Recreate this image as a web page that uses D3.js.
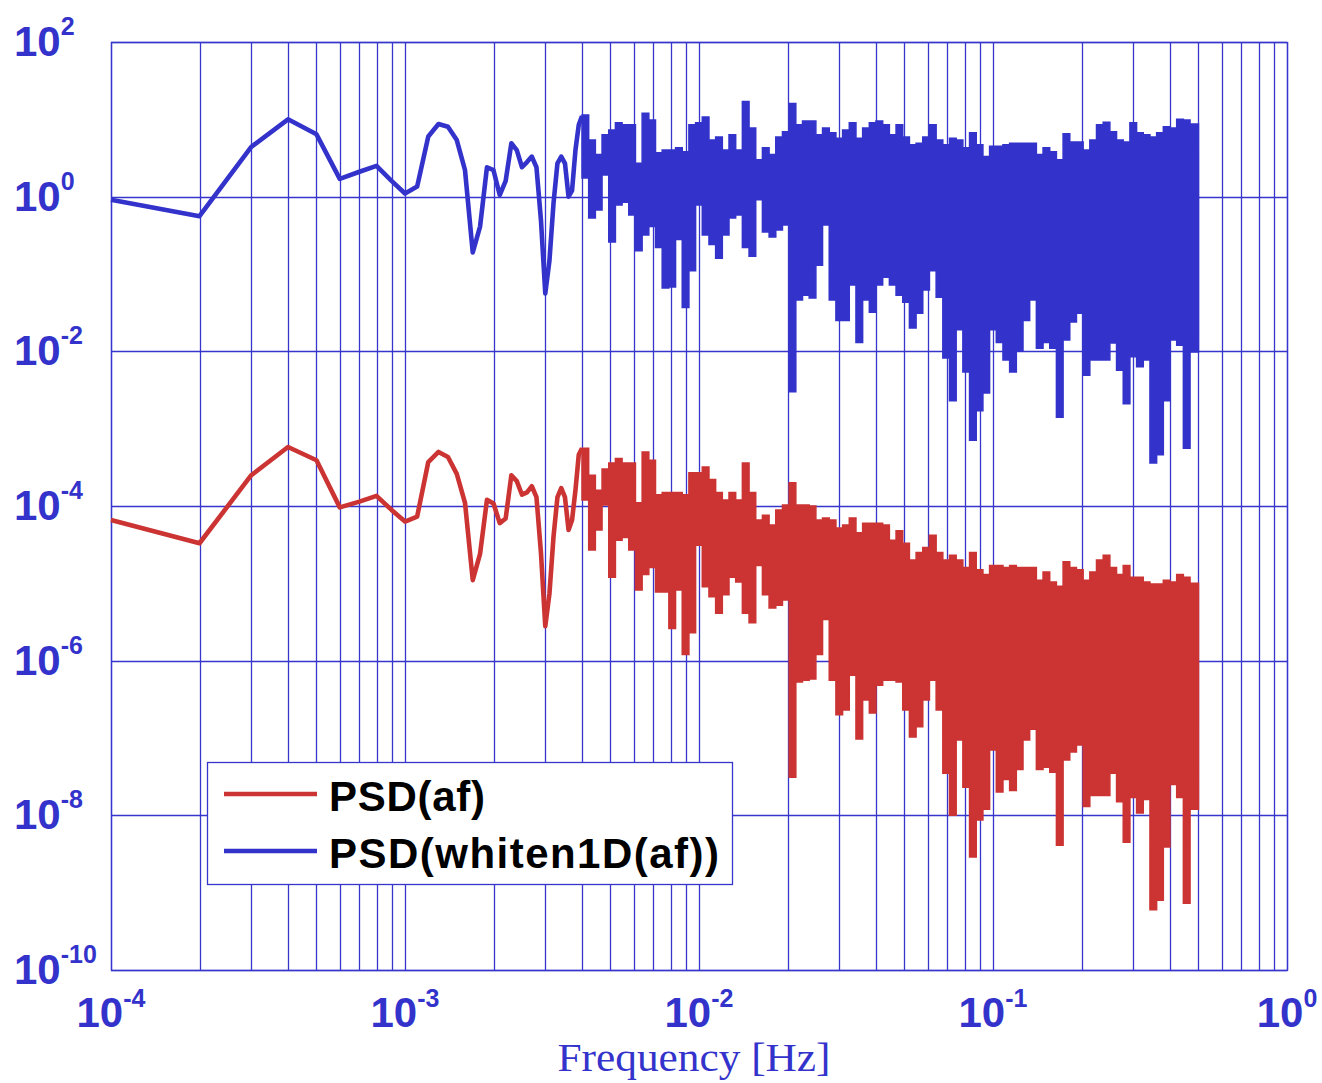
<!DOCTYPE html>
<html><head><meta charset="utf-8">
<script src="https://cdn.jsdelivr.net/npm/d3@7"></script>
<style>body{margin:0;background:#fff}svg{display:block}</style>
</head><body>
<script>
// ---- data ----
// low-frequency FFT bins k = 1..40 (f = k * 1e-4 Hz)
const lowBin = d3.range(1, 41);
const blueLowPSD = [0.91,0.56,4.4,10,6.4,1.7,2.1,2.5,1.6,1.1,1.35,6.0,8.7,8.0,5.4,2.2,0.19,0.41,2.4,2.2,1.05,1.6,4.9,4.0,2.4,2.8,3.3,2.4,0.5,0.056,0.15,0.82,2.7,3.3,2.7,1.0,1.2,4.0,8.5,11];
const redLowPSD = [6.6e-5,3.3e-5,2.5e-4,5.8e-4,3.9e-4,9.6e-5,1.14e-4,1.35e-4,8.9e-5,6.3e-5,7.3e-5,3.7e-4,5.0e-4,4.3e-4,2.6e-4,1.1e-4,1.1e-5,2.4e-5,1.2e-4,1.08e-4,6.0e-5,6.9e-5,2.5e-4,2.1e-4,1.4e-4,1.5e-4,1.8e-4,1.3e-4,2.5e-5,2.8e-6,7.4e-6,4.0e-5,1.3e-4,1.7e-4,1.3e-4,4.9e-5,6.6e-5,1.6e-4,4.6e-4,5.6e-4];

// dense part 0.004..0.5 Hz : per-band max / min of the PSD (92 log bands, 1/44 decade each)
const bandCount = 92, bandStartHz = 0.004, bandsPerDecade = 44, nyquistHz = 0.5;
const blueHi = [11.4,5.4,3.5,6.3,7.3,9.0,8.5,8.5,2.7,12,
 9.8,3.7,4.0,4.0,4.3,3.8,8.5,9.0,10.7,5.4,
 5.9,4.0,6.3,4.0,17,7.7,3.0,4.3,3.5,5.9,
 6.9,16,8.5,9.5,9.5,6.3,7.7,6.7,5.7,7.3,
 9.0,5.7,7.7,9.0,9.5,8.5,6.3,8.5,5.9,4.7,
 4.9,5.9,8.5,5.4,4.7,5.7,5.4,4.3,6.7,4.7,
 3.3,4.5,4.5,4.7,4.9,4.9,4.9,4.9,3.5,4.3,
 3.8,3.0,6.5,5.1,5.1,4.0,5.4,8.5,9.2,6.9,
 5.4,5.1,9.0,6.7,6.3,5.9,6.7,8.0,7.7,10,
 9.8,8.7];
const blueLo = [1.74,0.53,0.67,1.9,0.26,0.78,0.85,0.58,0.20,0.32,
 0.41,0.22,0.066,0.068,0.28,0.037,0.11,0.78,0.32,0.24,
 0.16,0.32,0.53,0.58,0.22,0.17,0.91,0.35,0.30,0.37,
 0.43,0.003,0.046,0.053,0.049,0.13,0.43,0.046,0.025,0.025,
 0.072,0.013,0.046,0.032,0.072,0.091,0.072,0.053,0.043,0.02,
 0.031,0.062,0.11,0.05,0.0082,0.0023,0.019,0.0054,0.00071,0.0017,
 0.0029,0.019,0.013,0.0077,0.0054,0.010,0.025,0.046,0.011,0.013,
 0.011,0.0014,0.014,0.024,0.031,0.0049,0.0077,0.0077,0.0077,0.0128,
 0.0057,0.0021,0.0085,0.0063,0.0077,0.00036,0.00046,0.0023,0.014,0.012,
 0.00056,0.0098];
const redHi = [5.6e-4,2.5e-4,1.6e-4,3.0e-4,3.6e-4,4.1e-4,3.6e-4,3.6e-4,1.1e-4,5.0e-4,
 3.9e-4,1.4e-4,1.5e-4,1.5e-4,1.5e-4,1.4e-4,2.7e-4,2.7e-4,3.2e-4,2.2e-4,
 1.5e-4,1.2e-4,1.5e-4,1.2e-4,3.6e-4,1.5e-4,6.6e-5,7.6e-5,5.7e-5,8.9e-5,
 1.03e-4,2.0e-4,1.03e-4,1.03e-4,1.0e-4,6.6e-5,7.0e-5,6.6e-5,5.2e-5,5.7e-5,
 7.0e-5,4.5e-5,6.0e-5,6.0e-5,6.0e-5,5.7e-5,3.6e-5,4.8e-5,3.3e-5,2.0e-5,
 2.5e-5,2.9e-5,4.2e-5,2.5e-5,2.0e-5,2.3e-5,2.0e-5,1.6e-5,2.5e-5,1.5e-5,
 1.3e-5,1.7e-5,1.7e-5,1.6e-5,1.7e-5,1.6e-5,1.6e-5,1.6e-5,1.1e-5,1.4e-5,
 1.04e-5,9.2e-6,1.9e-5,1.6e-5,1.5e-5,1.1e-5,1.4e-5,2.0e-5,2.3e-5,1.6e-5,
 1.3e-5,1.7e-5,1.2e-5,1.2e-5,1.04e-5,9.8e-6,9.8e-6,1.1e-5,1.04e-5,1.3e-5,
 1.2e-5,1.0e-5];
const redLo = [1.2e-4,2.7e-5,4.9e-5,1.03e-4,1.2e-5,3.6e-5,3.9e-5,2.7e-5,8.2e-6,1.3e-5,
 1.6e-5,7.7e-6,7.7e-6,2.6e-6,8.2e-6,1.2e-6,2.3e-6,3.1e-5,9.0e-6,6.7e-6,
 4.1e-6,7.1e-6,1.2e-5,1.04e-5,4.1e-6,3.1e-6,1.7e-5,7.1e-6,4.8e-6,5.2e-6,
 6.1e-6,3.1e-8,5.3e-7,5.6e-7,5.8e-7,1.2e-6,3.4e-6,5.6e-7,2.0e-7,2.3e-7,
 6.5e-7,9.7e-8,3.1e-7,2.1e-7,4.8e-7,5.6e-7,5.6e-7,5.3e-7,2.3e-7,1.03e-7,
 1.4e-7,3.1e-7,5.6e-7,2.3e-7,3.5e-8,1.0e-8,9.4e-8,2.3e-8,2.9e-9,8.7e-9,
 1.2e-8,7.0e-8,2.0e-8,2.9e-8,2.1e-8,3.9e-8,9.4e-8,1.3e-7,3.9e-8,4.2e-8,
 3.6e-8,4.1e-9,5.2e-8,6.6e-8,8.1e-8,1.3e-8,1.8e-8,1.8e-8,1.8e-8,3.5e-8,
 1.5e-8,4.5e-9,1.7e-8,1.07e-8,1.6e-8,6.0e-10,8.0e-10,3.9e-9,2.5e-8,1.7e-8,
 7.3e-10,1.2e-8];

const xTickExp = [-4,-3,-2,-1,0];
const yTickExp = [2,0,-2,-4,-6,-8,-10];
const seriesNames = ["PSD(af)", "PSD(whiten1D(af))"];
const seriesColors = ["#cc3333", "#3333cc"];

// ---- drawing ----
const W = 1322, H = 1083;
const L = 111, R = 1287, T = 42, B = 970;
const gridColor = "#3636cc";
const svg = d3.select("body").append("svg").attr("width", W).attr("height", H);
svg.append("rect").attr("width", W).attr("height", H).attr("fill", "#fff");

const x = d3.scaleLog().domain([1e-4, 1]).range([L, R]);
const y = d3.scaleLog().domain([1e-10, 1e2]).range([B, T]);

// grid
const vgrid = [];
for (let e = -4; e < 0; e++) for (let m = 1; m <= 9; m++) vgrid.push(m * Math.pow(10, e));
vgrid.push(1);
const g = svg.append("g");
g.selectAll("line.v").data(vgrid).enter().append("line")
  .attr("x1", d => Math.round(x(d)) + 0.5).attr("x2", d => Math.round(x(d)) + 0.5)
  .attr("y1", T).attr("y2", B).attr("stroke", gridColor).attr("stroke-width", 1.3);
g.selectAll("line.h").data(yTickExp).enter().append("line")
  .attr("y1", d => Math.round(y(Math.pow(10, d))) + 0.5).attr("y2", d => Math.round(y(Math.pow(10, d))) + 0.5)
  .attr("x1", L).attr("x2", R).attr("stroke", gridColor).attr("stroke-width", 1.3);
svg.append("rect").attr("x", L + 0.5).attr("y", T + 0.5).attr("width", R - L).attr("height", B - T)
  .attr("fill", "none").attr("stroke", gridColor).attr("stroke-width", 1.3);

// data
const bandHz = d3.range(bandCount).map(i => bandStartHz * Math.pow(10, i / bandsPerDecade));
function bands(hi, lo) {
  const pts = bandHz.map((f, i) => ({ f, hi: hi[i], lo: lo[i] }));
  pts.push({ f: nyquistHz, hi: hi[hi.length - 1], lo: lo[lo.length - 1] });
  return pts;
}
const lineGen = d3.line().x(d => x(d.f)).y(d => y(d.v));
const areaGen = d3.area().x(d => x(d.f)).y0(d => y(d.lo)).y1(d => y(d.hi)).curve(d3.curveStepAfter);

function drawSeries(lowVals, hi, lo, color) {
  const lowPts = lowBin.map((k, i) => ({ f: k * 1e-4, v: lowVals[i] }));
  svg.append("path").attr("d", areaGen(bands(hi, lo)))
    .attr("fill", color).attr("stroke", color).attr("stroke-width", 1.5);
  svg.append("path").attr("d", lineGen(lowPts))
    .attr("fill", "none").attr("stroke", color).attr("stroke-width", 4.6)
    .attr("stroke-linejoin", "round");
}
drawSeries(blueLowPSD, blueHi, blueLo, seriesColors[1]);
drawSeries(redLowPSD, redHi, redLo, seriesColors[0]);

// tick labels
const tickFont = "'Liberation Sans', Arial, sans-serif";
yTickExp.forEach(e => {
  const t = svg.append("text").attr("x", 14).attr("y", y(Math.pow(10, e)) + 14)
    .attr("font-family", tickFont).attr("font-weight", "bold").attr("font-size", 42)
    .attr("fill", "#3333cc");
  t.append("tspan").text("10");
  t.append("tspan").attr("font-size", 25).attr("dy", -21).text(String(e));
});
xTickExp.forEach(e => {
  const t = svg.append("text").attr("x", x(Math.pow(10, e))).attr("y", 1027)
    .attr("text-anchor", "middle")
    .attr("font-family", tickFont).attr("font-weight", "bold").attr("font-size", 42)
    .attr("fill", "#3333cc");
  t.append("tspan").text("10");
  t.append("tspan").attr("font-size", 25).attr("dy", -20).text(String(e));
});

// axis label
svg.append("text").attr("x", 694).attr("y", 1071).attr("text-anchor", "middle")
  .attr("font-family", "'Liberation Serif', 'DejaVu Serif', serif").attr("font-size", 40)
  .attr("fill", "#3333cc").attr("textLength", 273).attr("lengthAdjust", "spacingAndGlyphs")
  .text("Frequency [Hz]");

// legend
const lg = svg.append("g");
lg.append("rect").attr("x", 207.5).attr("y", 762.5).attr("width", 525).attr("height", 122)
  .attr("fill", "#fff").attr("stroke", gridColor).attr("stroke-width", 1.3);
const legY = [794, 851];
const legTextLen = [156, 390];
seriesNames.forEach((name, i) => {
  lg.append("line").attr("x1", 224).attr("x2", 317).attr("y1", legY[i]).attr("y2", legY[i])
    .attr("stroke", seriesColors[i]).attr("stroke-width", 4.5);
  lg.append("text").attr("x", 329).attr("y", legY[i] + 17)
    .attr("font-family", tickFont).attr("font-weight", "bold").attr("font-size", 42)
    .attr("textLength", legTextLen[i]).attr("lengthAdjust", "spacing")
    .attr("fill", "#000").text(name);
});
</script>
</body></html>
